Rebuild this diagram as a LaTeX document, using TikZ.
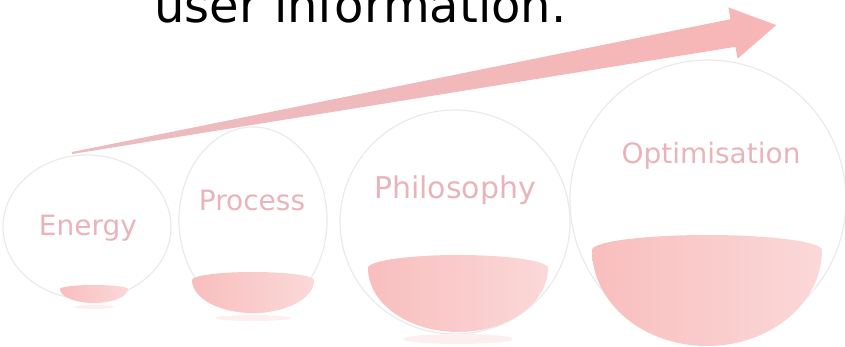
\documentclass[tikz,border=0pt]{standalone}
\usepackage{fontspec}
\setmainfont{DejaVu Sans}
\definecolor{arrowpink}{RGB}{248,182,182}
\definecolor{tailgray}{RGB}{234,188,192}
\definecolor{bowlpink}{RGB}{249,190,190}
\definecolor{bowllight}{RGB}{251,216,216}
\definecolor{labelpink}{RGB}{232,180,186}
\definecolor{spheregray}{RGB}{234,234,234}

\begin{document}
\begin{tikzpicture}[x=1pt,y=-1pt,line cap=round,line join=round,
  sphere/.style={draw=spheregray,line width=1.2pt},
  bowl/.style={left color=bowlpink,right color=bowllight},
  reflex/.style={fill=bowlpink!25!white},
  lbl/.style={text=labelpink,anchor=base,inner sep=0pt,font=\fontsize{28}{32}\selectfont}]
\useasboundingbox (0,0) rectangle (845,346);
\clip (0,0) rectangle (845,346);
\node[anchor=base west,inner sep=0pt,font=\fontsize{48}{56}\selectfont] (title) at (154,22) {user information.};
\draw[sphere] (87,227) ellipse[x radius=84,y radius=72];
\draw[sphere] (253,220) ellipse[x radius=74,y radius=93];
\draw[sphere] (455,222) ellipse[x radius=115,y radius=112];
\draw[sphere] (708,200) ellipse[x radius=138,y radius=140];
\fill[reflex] (94,307) ellipse[x radius=20,y radius=2];
\fill[reflex] (253,318) ellipse[x radius=38,y radius=3];
\fill[reflex] (458,339) ellipse[x radius=55,y radius=5];
\shade[bowl] (60,289) arc[start angle=180,end angle=0,x radius=34,y radius=14] arc[start angle=0,end angle=-180,x radius=34,y radius=4] -- cycle;
\shade[bowl] (192,280) arc[start angle=180,end angle=0,x radius=61,y radius=33] arc[start angle=0,end angle=-180,x radius=61,y radius=8] -- cycle;
\shade[bowl] (368,268) arc[start angle=180,end angle=0,x radius=90,y radius=64] arc[start angle=0,end angle=-180,x radius=90,y radius=13] -- cycle;
\shade[bowl] (592,250) arc[start angle=180,end angle=0,x radius=115,y radius=96] arc[start angle=0,end angle=-180,x radius=115,y radius=15] -- cycle;
\shade[left color=tailgray,middle color=arrowpink,right color=arrowpink] (71.8,152.0) -- (730.5,19.2) -- (728.4,7.4) -- (776.3,25.1) -- (737.6,58.6) -- (735.5,46.8) -- (72.2,154.0) -- cycle;
\node[lbl] (energy) at (88,235) {Energy};
\node[lbl] (process) at (252,210) {Process};
\node[lbl,font=\fontsize{30}{34}\selectfont] (philosophy) at (455,198) {Philosophy};
\node[lbl] (optimisation) at (711,163) {Optimisation};
\end{tikzpicture}
\end{document}
